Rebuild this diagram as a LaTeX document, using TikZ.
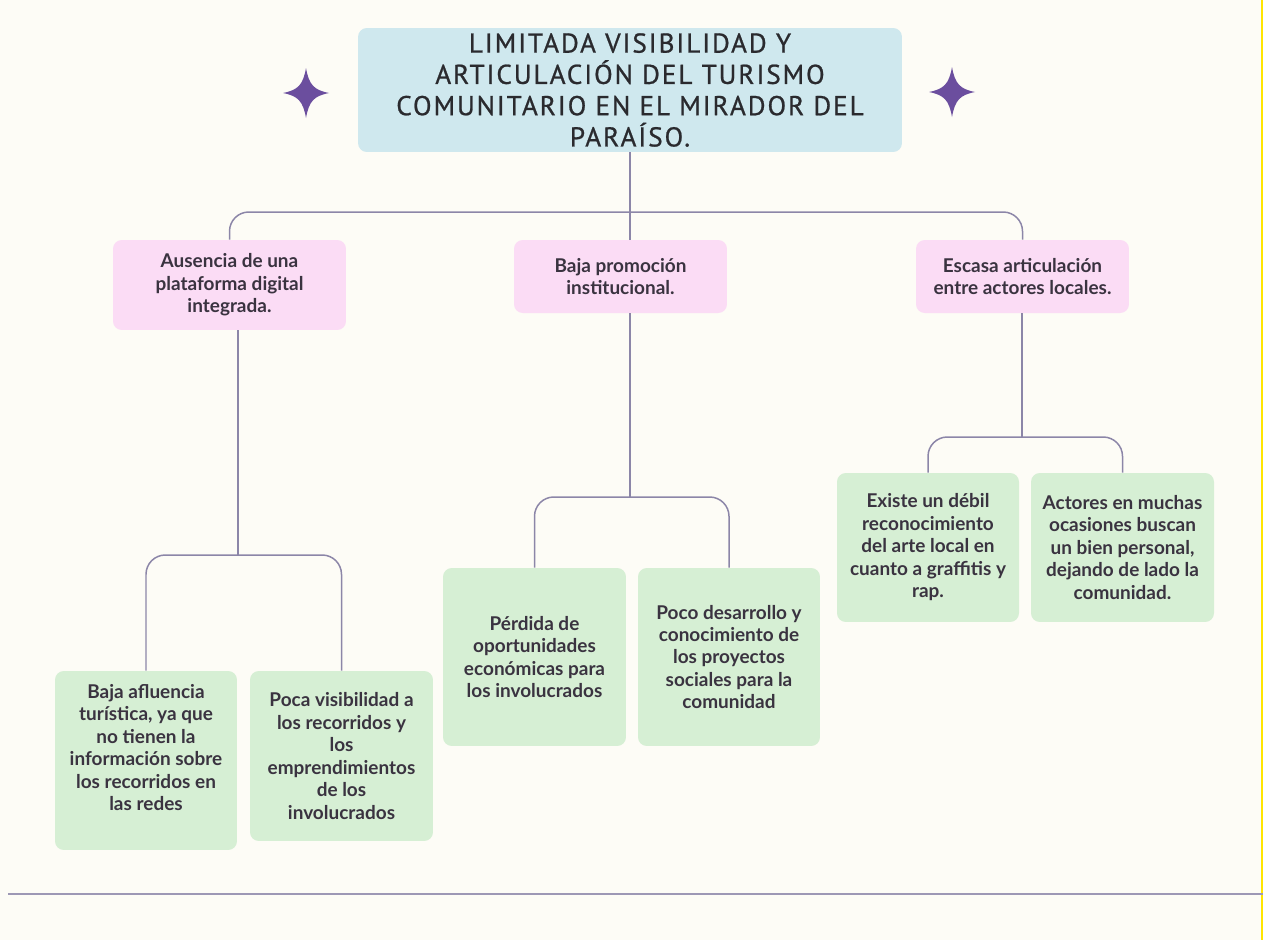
\documentclass[tikz,border=0pt]{standalone}
\usepackage{fontspec}
\newfontfamily\titlefont{PT Sans}[LetterSpace=7,FakeBold=0.8]
\newfontfamily\bodyfont{Lato}
\definecolor{paper}{HTML}{FDFCF6}
\definecolor{titlebg}{HTML}{CFE8EE}
\definecolor{pinkbg}{HTML}{FBDCF5}
\definecolor{greenbg}{HTML}{D6EFD4}
\definecolor{linkc}{HTML}{8C86A8}
\definecolor{sparkc}{HTML}{6B4E9E}
\definecolor{inkc}{HTML}{3A3340}
\definecolor{headc}{HTML}{2A2A2E}
\definecolor{rimc}{HTML}{FFE500}
\NewDocumentCommand\DrawSpark{mm}%
{%
\begin{scope}[shift={(#1,#2)}]
\fill[sparkc] (0,-25) .. controls (3,-8) and (8,-3) .. (23,0)
  .. controls (8,3) and (3,8) .. (0,25)
  .. controls (-3,8) and (-8,3) .. (-23,0)
  .. controls (-8,-3) and (-3,-8) .. (0,-25) -- cycle;%
\end{scope}%
}
\tikzset{
  box/.style={rounded corners=5pt,inner sep=0pt,align=center,text=inkc,
    font=\bodyfont\bfseries\fontsize{10.8}{12.8}\selectfont},
  headbox/.style={box,fill=titlebg,minimum width=10.88cm,minimum height=2.48cm,
    text=headc,font=\titlefont\fontsize{15.5}{17.8}\selectfont},
  causebox/.style={box,fill=pinkbg},
  effectbox/.style={box,fill=greenbg},
  link/.style={draw=linkc,line width=0.85pt,rounded corners=11pt}
}
\begin{document}
\begin{tikzpicture}[x=0.02cm,y=-0.02cm]
\useasboundingbox (0,0) rectangle (1263,940);
\fill[paper] (0,0) rectangle (1263,940);
\draw[rimc,line width=1.2pt] (1262,0) -- (1262,940);
\draw[linkc!85,line width=1.2pt] (8,894) -- (1263,894);

\node[headbox] (title) at (630,90) {LIMITADA VISIBILIDAD Y\\ARTICULACIÓN DEL TURISMO\\COMUNITARIO EN EL MIRADOR DEL\\PARAÍSO.};
\DrawSpark{306}{93}
\DrawSpark{952}{92}

% causas
\node[causebox,minimum width=4.66cm,minimum height=1.8cm] (p1) at (229.5,285) {Ausencia de una\\plataforma digital\\integrada.};
\node[causebox,minimum width=4.26cm,minimum height=1.46cm] (p2) at (620.5,276.5) {Baja promoción\\institucional.};
\node[causebox,minimum width=4.26cm,minimum height=1.46cm] (p3) at (1022.5,276.5) {Escasa articulación\\entre actores locales.};

% efectos
\node[effectbox,minimum width=3.64cm,minimum height=3.58cm] (gA) at (146,760.5) {Baja afluencia\\turística, ya que\\no tienen la\\información sobre\\los recorridos en\\las redes\\[2pt]\mbox{}};
\node[effectbox,minimum width=3.66cm,minimum height=3.4cm] (gB) at (341.5,756) {Poca visibilidad a\\los recorridos y\\los\\emprendimientos\\de los\\involucrados};
\node[effectbox,minimum width=3.66cm,minimum height=3.56cm] (gC) at (534.5,657) {Pérdida de\\oportunidades\\económicas para\\los involucrados};
\node[effectbox,minimum width=3.64cm,minimum height=3.56cm] (gD) at (729,657) {Poco desarrollo y\\conocimiento de\\los proyectos\\sociales para la\\comunidad};
\node[effectbox,minimum width=3.64cm,minimum height=2.98cm] (gE) at (928,547.5) {Existe un débil\\reconocimiento\\del arte local en\\cuanto a graffitis y\\rap.};
\node[effectbox,minimum width=3.66cm,minimum height=2.98cm] (gF) at (1122.5,547.5) {Actores en muchas\\ocasiones buscan\\un bien personal,\\dejando de lado la\\comunidad.};

\coordinate (j0) at (630,212);
\coordinate (j1) at (238,555);
\coordinate (j2) at (630,497);
\coordinate (j3) at (1022,437);

\draw[link] (title.south) -- (title.south |- p2.north);
\draw[link] (p1.north) |- (j0) -| (p3.north);
\draw[link] (p1.south -| j1) -- (j1);
\draw[link] (gA.north) |- (j1) -| (gB.north);
\draw[link] (p2.south -| j2) -- (j2);
\draw[link] (gC.north) |- (j2) -| (gD.north);
\draw[link] (p3.south -| j3) -- (j3);
\draw[link] (gE.north) |- (j3) -| (gF.north);
\end{tikzpicture}
\end{document}
